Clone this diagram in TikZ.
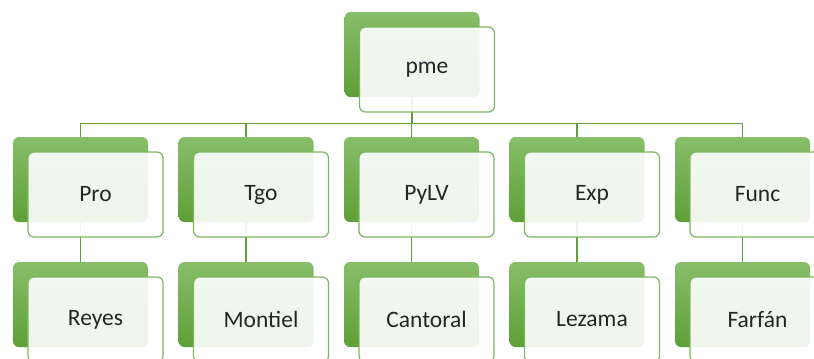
\documentclass[tikz,border=0pt]{standalone}
\usepackage{fontspec}
\setmainfont{Carlito}
\usetikzlibrary{backgrounds}
\definecolor{leafTop}{HTML}{87BE6A}
\definecolor{leafBot}{HTML}{5E9F37}
\definecolor{paneEdge}{HTML}{7DB660}
\definecolor{wire}{HTML}{629E40}
\definecolor{ink}{HTML}{262626}
\tikzset{
  back/.style={rectangle, rounded corners=6bp, minimum width=135bp, minimum height=85bp,
    inner sep=0pt, top color=leafTop, bottom color=leafBot, draw=none},
  pane/.style={rectangle, rounded corners=6bp, minimum width=135bp, minimum height=85bp,
    inner sep=0pt, fill=white, fill opacity=0.9, text opacity=1, draw=paneEdge,
    draw opacity=1, line width=1.2bp, text=ink, font=\fontsize{23.5bp}{28bp}\selectfont},
  conn/.style={draw=wire, line width=1.5bp}
}
\begin{document}
\begin{tikzpicture}[x=1bp, y=-1bp]
  \useasboundingbox (0,0) rectangle (814,358);
  % root
  \node[back] (rb) at (412,54.5) {};
  \node[pane] (rf) at (427,69.5) {pme};
  % first level and second level boxes
  \foreach \i/\top/\bot in {1/Pro/Reyes, 2/Tgo/Montiel, 3/PyLV/Cantoral, 4/Exp/Lezama, 5/Func/Farf\'an} {
    \pgfmathsetmacro{\cx}{80.5+165.5*(\i-1)}
    \node[back] (b\i) at (\cx,179.5) {};
    \node[pane] (f\i) at (\cx+15,194.5) {\top};
    \node[back] (c\i) at (\cx,304.5) {};
    \node[pane] (g\i) at (\cx+15,319.5) {\bot};
  }
  % white sheet and connectors behind the boxes
  \begin{scope}[on background layer]
    \fill[white] (0,0) rectangle (814,358);
    \coordinate (bus) at (0,123.5);
    \draw[conn] (rb.center) -- (rb.center |- bus);
    \draw[conn] (b1.center) -- (b1.center |- bus) -- (b5.center |- bus) -- (b5.center);
    \foreach \i in {2,3,4} {
      \draw[conn] (b\i.center) -- (b\i.center |- bus);
    }
    \foreach \i in {1,...,5} {
      \draw[conn] (b\i.center) -- (c\i.center);
    }
  \end{scope}
\end{tikzpicture}
\end{document}
